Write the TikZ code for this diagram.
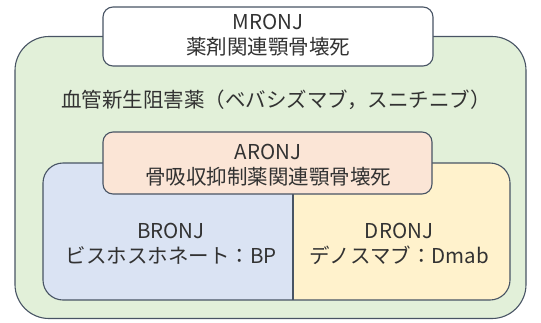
\documentclass[tikz,border=0pt]{standalone}
\usepackage{fontspec}
\setmainfont{Noto Sans CJK JP}
\definecolor{lineC}{RGB}{72,84,100}
\definecolor{greenF}{RGB}{226,240,217}
\definecolor{blueF}{RGB}{218,227,243}
\definecolor{yellowF}{RGB}{255,242,204}
\definecolor{orangeF}{RGB}{251,229,214}
\definecolor{textC}{RGB}{50,50,50}
\tikzset{
  shape box/.style={draw=lineC, line width=1.1pt, rectangle, inner sep=0pt},
  label text/.style={align=center, inner sep=0pt, text=textC, font=\fontsize{20.5}{25}\selectfont},
}
\begin{document}
\begin{tikzpicture}[x=1pt, y=-1pt]
\useasboundingbox (0,0) rectangle (541,322);
% outer green
\node[shape box, fill=greenF, rounded corners=34, minimum width=511pt, minimum height=282pt] (outer) at (270.5,177.5) {};
% MRONJ
\node[shape box, fill=white, rounded corners=10, minimum width=330pt, minimum height=59pt] (mronjbox) at (268,36.5) {};
\node[label text] (mronj) at (268,35.5) {MRONJ\\薬剤関連顎骨壊死};
% angiogenesis inhibitors text
\node[label text, anchor=west] (angio) at (61,100) {血管新生阻害薬（ベバシズマブ，スニチニブ）};
% inner split box
\begin{scope}
  \clip[rounded corners=20] (43,163) rectangle (510,300);
  \fill[blueF] (43,163) rectangle (293,300);
  \fill[yellowF] (293,163) rectangle (510,300);
\end{scope}
\draw[draw=lineC, line width=1.1pt, rounded corners=20] (43,163) rectangle (510,300);
\coordinate (divtop) at (293,163);
\coordinate (divbot) at (293,300);
\draw[draw=lineC, line width=1.1pt] (divtop) -- (divbot);
% ARONJ
\node[shape box, fill=orangeF, rounded corners=10, minimum width=329pt, minimum height=62pt] (aronjbox) at (267.5,163) {};
\node[label text] (aronj) at (268,165) {ARONJ\\骨吸収抑制薬関連顎骨壊死};
% BRONJ / DRONJ
\node[label text] (bronj) at (171,243.5) {BRONJ\\ビスホスホネート：BP};
\node[label text] (dronj) at (399,243.5) {DRONJ\\デノスマブ：Dmab};
\end{tikzpicture}
\end{document}
